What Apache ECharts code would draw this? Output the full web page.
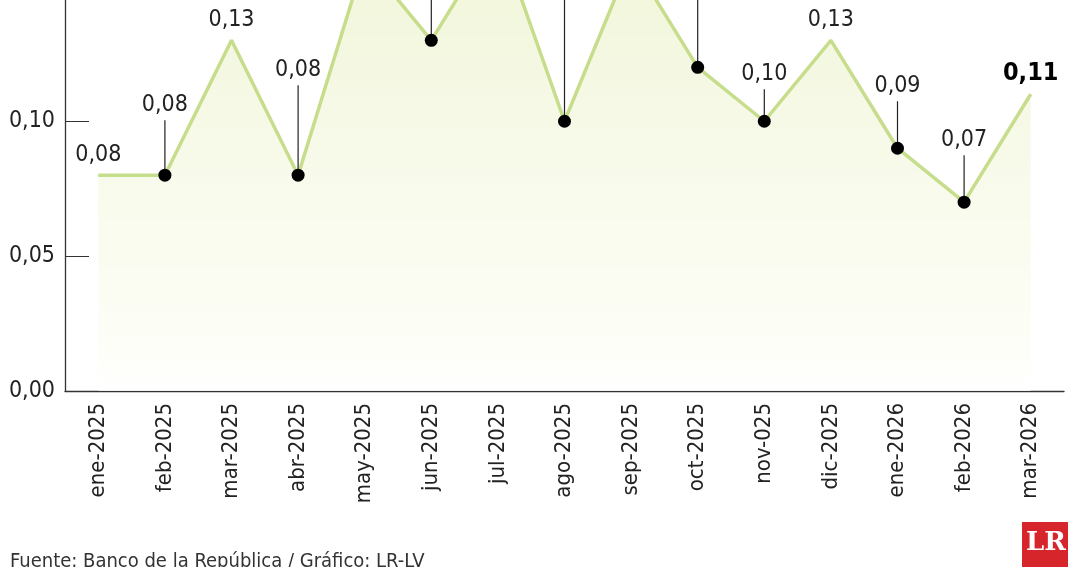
<!DOCTYPE html><html><head><meta charset="utf-8">
<script src="https://cdn.jsdelivr.net/npm/echarts@6/dist/echarts.min.js"></script>
<style>html,body{margin:0;padding:0;background:#fff;overflow:hidden}#w{position:relative;width:1080px;height:567px;overflow:hidden}#c{position:absolute;left:0;top:-160px;width:1080px;height:727px}</style></head><body><div id="w"><div id="c"></div></div>
<script>
const categories=['ene-2025','feb-2025','mar-2025','abr-2025','may-2025','jun-2025','jul-2025','ago-2025','sep-2025','oct-2025','nov-025','dic-2025','ene-2026','feb-2026','mar-2026'];
const values=[0.08,0.08,0.13,0.08,0.16,0.13,0.17,0.10,0.16,0.12,0.10,0.13,0.09,0.07,0.11];
const hasDot=[0,1,0,1,0,1,0,1,0,1,1,0,1,1,0];
const leader=[0,55,0,90,0,80,0,160,0,90,32,0,47,47,0];
const F='"DejaVu Sans Condensed","DejaVu Sans",sans-serif';
const fmt=v=>v.toFixed(2).replace('.',',');
const chart=echarts.init(document.getElementById('c'));
chart.setOption({
 animation:false,
 grid:{left:65,right:16,top:0,height:551},
 xAxis:{type:'category',data:categories,boundaryGap:true,
  axisLine:{lineStyle:{color:'#333',width:1.3}},
  axisTick:{inside:true,length:13,lineStyle:{color:'#555'}},
  axisLabel:{rotate:90,color:'#222',fontFamily:F,fontSize:22,margin:12}},
 yAxis:{type:'value',min:0,max:0.2,interval:0.05,
  axisLine:{show:true,lineStyle:{color:'#333',width:1.3}},
  axisTick:{show:true,inside:true,length:24,lineStyle:{color:'#333'}},
  splitLine:{show:false},
  axisLabel:{color:'#222',fontFamily:F,fontSize:23,margin:10,formatter:v=>fmt(v)}},
 graphic:[
  {type:'text',left:10,top:712,style:{text:'Fuente: Banco de la República / Gráfico: LR-LV',font:'20px '+F,fill:'#333'}},
  {type:'rect',left:1022,top:682,shape:{width:46,height:46},style:{fill:'#d7262b'}},
  {type:'text',left:1026,top:690,style:{text:'LR',font:'bold 26px "DejaVu Serif",serif',fill:'#fff'}}
 ],
 series:[
  {type:'line',data:values,showSymbol:true,symbol:'circle',symbolSize:1,itemStyle:{color:'#c6dd8c'},lineStyle:{color:'#c6dd8c',width:3.5},
   areaStyle:{color:new echarts.graphic.LinearGradient(0,0,0,1,[{offset:0,color:'rgba(225,236,180,0.75)'},{offset:0.85,color:'rgba(250,252,235,0.7)'},{offset:1,color:'rgba(255,255,255,1)'}])},
   label:{show:true,position:'top',distance:8,fontFamily:F,fontSize:23,color:'#222',
    rich:{b:{fontWeight:'bold',fontSize:25,color:'#000',fontFamily:F}},
    formatter:p=>hasDot[p.dataIndex]?'':(p.dataIndex===14?'{b|'+fmt(p.value)+'}':fmt(p.value))},
   labelLayout:{hideOverlap:false},z:2},
  {type:'custom',z:5,data:values.map((v,i)=>[i,v,leader[i],hasDot[i]]),
   renderItem:(params,api)=>{
    if(!api.value(3))return null;
    const p=api.coord([api.value(0),api.value(1)]);const L=api.value(2);const i=api.value(0);
    return {type:'group',children:[
     {type:'line',shape:{x1:p[0],y1:p[1],x2:p[0],y2:p[1]-L},style:{stroke:'#222',lineWidth:1.2}},
     {type:'circle',shape:{cx:p[0],cy:p[1],r:6.5},style:{fill:'#000'}},
     {type:'text',x:p[0],y:p[1]-L-4,style:{text:fmt(values[i]),font:'23px '+F,fill:'#222',align:'center',verticalAlign:'bottom'}}
    ]};
   }}
 ]
});
</script></body></html>
